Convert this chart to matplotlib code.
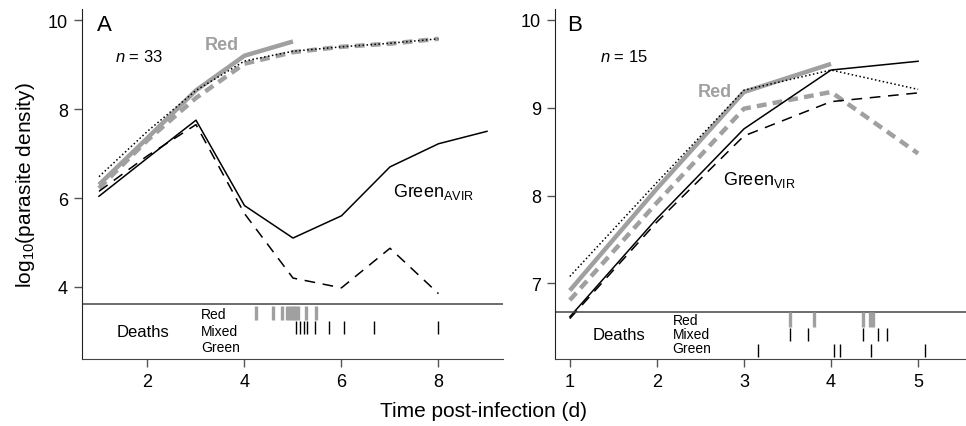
import matplotlib.pyplot as plt

plt.rcParams['font.family'] = ['Liberation Sans', 'DejaVu Sans']
plt.rcParams['mathtext.fontset'] = 'custom'
plt.rcParams['mathtext.rm'] = 'Liberation Sans'
plt.rcParams['mathtext.it'] = 'Liberation Sans:italic'

GRAY = '#a0a0a0'

# ---- panel A data (n = 33) ----
a_days = [1, 2, 3, 4, 5, 6, 7, 8, 9]
a_red = [6.3, 7.35, 8.42, 9.2, 9.52]
a_mixed_red = [6.22, 7.3, 8.25, 9.02, 9.28, 9.4, 9.47, 9.58]
a_mixed_total = [6.48, 7.5, 8.42, 9.08, 9.3, 9.4, 9.48, 9.58]
a_green = [6.04, 6.9, 7.75, 5.83, 5.1, 5.6, 6.7, 7.22, 7.5]
a_mixed_green = [6.15, 6.95, 7.65, 5.65, 4.2, 3.98, 4.87, 3.85]

a_deaths_red = [4.23, 4.59, 4.77, 4.88, 4.94, 5.0, 5.05, 5.1, 5.26, 5.47]
a_deaths_mixed = [5.07, 5.14, 5.22, 5.29, 5.46, 5.74, 6.05, 6.68, 7.98]
a_deaths_green = []

# ---- panel B data (n = 15) ----
b_days = [1, 2, 3, 4, 5]
b_red = [6.92, 8.08, 9.18, 9.5]
b_mixed_red = [6.81, 7.92, 8.99, 9.18, 8.48]
b_mixed_total = [7.08, 8.15, 9.2, 9.43, 9.21]
b_green = [6.62, 7.74, 8.76, 9.43, 9.53]
b_mixed_green = [6.6, 7.7, 8.68, 9.07, 9.17]

b_deaths_red = [3.53, 3.80, 4.37, 4.45, 4.48]
b_deaths_mixed = [3.53, 3.74, 4.37, 4.54, 4.64]
b_deaths_green = [3.16, 4.03, 4.10, 4.46, 5.08]


def draw_panel(ax, days, red, mred, mtot, green, mgreen):
    ax.plot(days[:len(mred)], mred, color=GRAY, lw=3.2, dashes=(2.2, 1.4),
            solid_capstyle='butt')
    ax.plot(days[:len(red)], red, color=GRAY, lw=3.2, solid_capstyle='butt')
    ax.plot(days[:len(mtot)], mtot, color='black', lw=1.1, ls=(0, (1, 1.6)))
    ax.plot(days[:len(mgreen)], mgreen, color='black', lw=1.1, dashes=(7, 5))
    ax.plot(days[:len(green)], green, color='black', lw=1.1)


def draw_deaths(ax, sep, rows, red_d, mixed_d, green_d):
    ax.axhline(sep, color='#444444', lw=1.1)
    (r0, r1), (m0, m1), (g0, g1) = rows
    ax.vlines(red_d, r0, r1, color=GRAY, lw=2.4)
    ax.vlines(mixed_d, m0, m1, color='black', lw=1.0)
    ax.vlines(green_d, g0, g1, color='black', lw=1.0)


fig = plt.figure(figsize=(9.66, 4.27), dpi=100)
axA = fig.add_axes([82 / 966, 1 - 360 / 427, 421 / 966, 350 / 427])
axB = fig.add_axes([555 / 966, 1 - 360 / 427, 411 / 966, 350 / 427])

for ax in (axA, axB):
    for s in ('top', 'right'):
        ax.spines[s].set_visible(False)
    ax.spines['left'].set_color('#222222')
    ax.spines['bottom'].set_color('#444444')
    ax.tick_params(direction='out', length=6, width=1, labelsize=13,
                   color='#555555', pad=4)

# panel A
draw_panel(axA, a_days, a_red, a_mixed_red, a_mixed_total, a_green, a_mixed_green)
draw_deaths(axA, 3.62, [(3.57, 3.26), (3.24, 2.94), (2.9, 2.6)],
            a_deaths_red, a_deaths_mixed, a_deaths_green)
axA.set_xlim(0.65, 9.33)
axA.set_ylim(2.38, 10.25)
axA.set_yticks([4, 6, 8, 10])
axA.set_xticks([2, 4, 6, 8])
axA.set_ylabel('log$_{10}$(parasite density)', fontsize=15, labelpad=8)
axA.text(0.036, 0.957, 'A', transform=axA.transAxes, fontsize=16, va='center')
axA.text(0.078, 0.866, '$n$ = 33', transform=axA.transAxes, fontsize=12, va='center')
axA.text(3.18, 9.46, 'Red', color=GRAY, fontsize=13, fontweight='bold', va='center')
axA.text(7.07, 6.16, 'Green$_{\\mathregular{AVIR}}$', fontsize=13, va='center')
axA.text(1.9, 3.0, 'Deaths', fontsize=12, ha='center', va='center')
for lab, yy in zip(['Red', 'Mixed', 'Green'], [3.4, 3.02, 2.66]):
    axA.text(3.1, yy, lab, fontsize=10, va='center')

# panel B
draw_panel(axB, b_days, b_red, b_mixed_red, b_mixed_total, b_green, b_mixed_green)
draw_deaths(axB, 6.68, [(6.67, 6.51), (6.49, 6.34), (6.31, 6.16)],
            b_deaths_red, b_deaths_mixed, b_deaths_green)
axB.set_xlim(0.83, 5.55)
axB.set_ylim(6.14, 10.125)
axB.set_yticks([7, 8, 9, 10])
axB.set_xticks([1, 2, 3, 4, 5])
axB.text(0.029, 0.957, 'B', transform=axB.transAxes, fontsize=16, va='center')
axB.text(0.109, 0.866, '$n$ = 15', transform=axB.transAxes, fontsize=12, va='center')
axB.text(2.86, 9.18, 'Red', color=GRAY, fontsize=13, fontweight='bold',
         va='center', ha='right')
axB.text(2.76, 8.19, 'Green$_{\\mathregular{VIR}}$', fontsize=13, va='center')
axB.text(1.57, 6.42, 'Deaths', fontsize=12, ha='center', va='center')
for lab, yy in zip(['Red', 'Mixed', 'Green'], [6.58, 6.43, 6.27]):
    axB.text(2.18, yy, lab, fontsize=10, va='center')

fig.text(483 / 966, 1 - 412 / 427, 'Time post-infection (d)', fontsize=15,
         ha='center', va='center')

fig.savefig('out.png', dpi=100)
